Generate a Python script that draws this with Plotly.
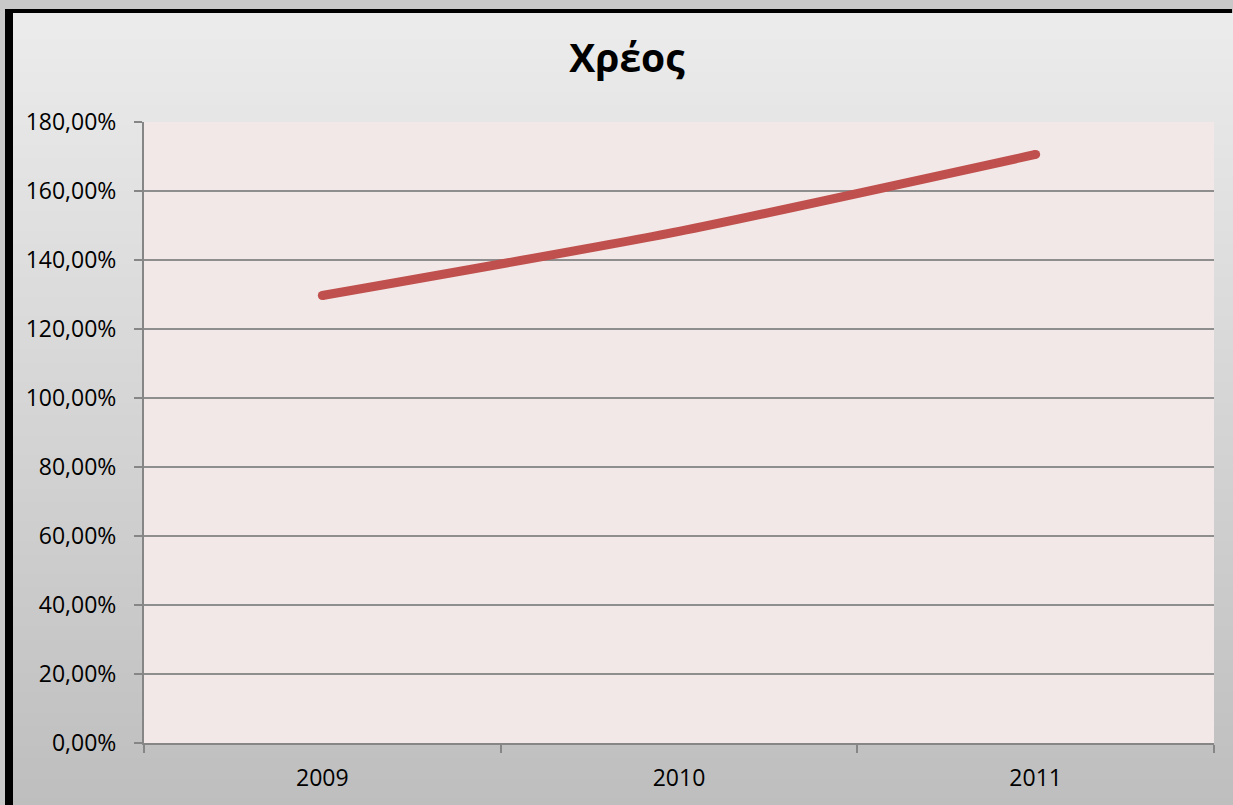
import plotly.graph_objects as go

# Debt as percentage of GDP
years = ["2009", "2010", "2011"]
debt_pct = [129.7, 148.3, 170.6]

y_ticks = [0, 20, 40, 60, 80, 100, 120, 140, 160, 180]
y_tick_labels = ["0,00%", "20,00%", "40,00%", "60,00%", "80,00%",
                 "100,00%", "120,00%", "140,00%", "160,00%", "180,00%"]

W, H = 1233, 805
L, R, T, B = 144, 1214, 122, 743  # plot area in pixels


def px_x(x):
    return (x - L) / (R - L)


def px_y(y):
    return (B - y) / (B - T)


shapes = []

# vertical grey gradient behind the chart
n = 120
top_c, bot_c = 236, 190
for i in range(n):
    y0 = 13 + (H - 13) * i / n
    y1 = 13 + (H - 13) * (i + 1) / n + 0.8
    c = round(top_c + (bot_c - top_c) * (i + 0.5) / n)
    shapes.append(dict(type="rect", xref="paper", yref="paper", layer="below",
                       x0=px_x(13), x1=px_x(W), y0=px_y(min(y1, H)), y1=px_y(y0),
                       line=dict(width=0), fillcolor=f"rgb({c},{c},{c})"))

# plot area fill
shapes.append(dict(type="rect", xref="paper", yref="paper", layer="below",
                   x0=0, x1=1, y0=0, y1=1, line=dict(width=0),
                   fillcolor="#F2E8E7"))

# chart frame (top and left edges)
shapes.append(dict(type="rect", xref="paper", yref="paper", layer="above",
                   x0=px_x(5), x1=px_x(W - 1), y0=px_y(13), y1=px_y(9),
                   line=dict(width=0), fillcolor="black"))
shapes.append(dict(type="rect", xref="paper", yref="paper", layer="above",
                   x0=px_x(5), x1=px_x(13), y0=px_y(H), y1=px_y(9),
                   line=dict(width=0), fillcolor="black"))

fig = go.Figure()
fig.add_trace(go.Scatter(
    x=years, y=debt_pct, mode="lines",
    line=dict(color="#C0504D", width=9, shape="spline", smoothing=0.6),
    hoverinfo="skip", showlegend=False,
))
# rounded line ends
fig.add_trace(go.Scatter(
    x=[years[0], years[-1]], y=[debt_pct[0], debt_pct[-1]], mode="markers",
    marker=dict(color="#C0504D", size=9, line=dict(width=0)),
    hoverinfo="skip", showlegend=False,
))

font_family = "Open Sans"

fig.update_layout(
    width=W, height=H,
    margin=dict(l=L, r=W - R, t=T, b=H - B, autoexpand=False),
    paper_bgcolor="#C8C8C8",
    plot_bgcolor="rgba(0,0,0,0)",
    shapes=shapes,
    title=dict(text="<b>Χρέος</b>", x=627 / W, xanchor="center",
               y=1 - 58 / H, yanchor="middle",
               font=dict(family=font_family, size=39, color="black")),
    font=dict(family=font_family, size=23, color="black"),
    xaxis=dict(
        type="category", range=[-0.5, 2.5],
        tickson="boundaries", ticks="outside", ticklen=8, tickwidth=2,
        tickcolor="#868686",
        showline=True, linecolor="#868686", linewidth=2,
        showgrid=False, zeroline=False,
        ticklabelstandoff=13,
        tickfont=dict(family=font_family, size=23, color="black"),
    ),
    yaxis=dict(
        range=[0, 180], tickvals=y_ticks, ticktext=y_tick_labels,
        ticks="outside", ticklen=8, tickwidth=2, tickcolor="#868686",
        showline=True, linecolor="#868686", linewidth=2,
        showgrid=True, gridcolor="#8E8E8E", gridwidth=2,
        zeroline=False,
        ticklabelstandoff=13,
        tickfont=dict(family=font_family, size=23, color="black"),
    ),
)

fig.write_html("out.html", config={"displayModeBar": False})
